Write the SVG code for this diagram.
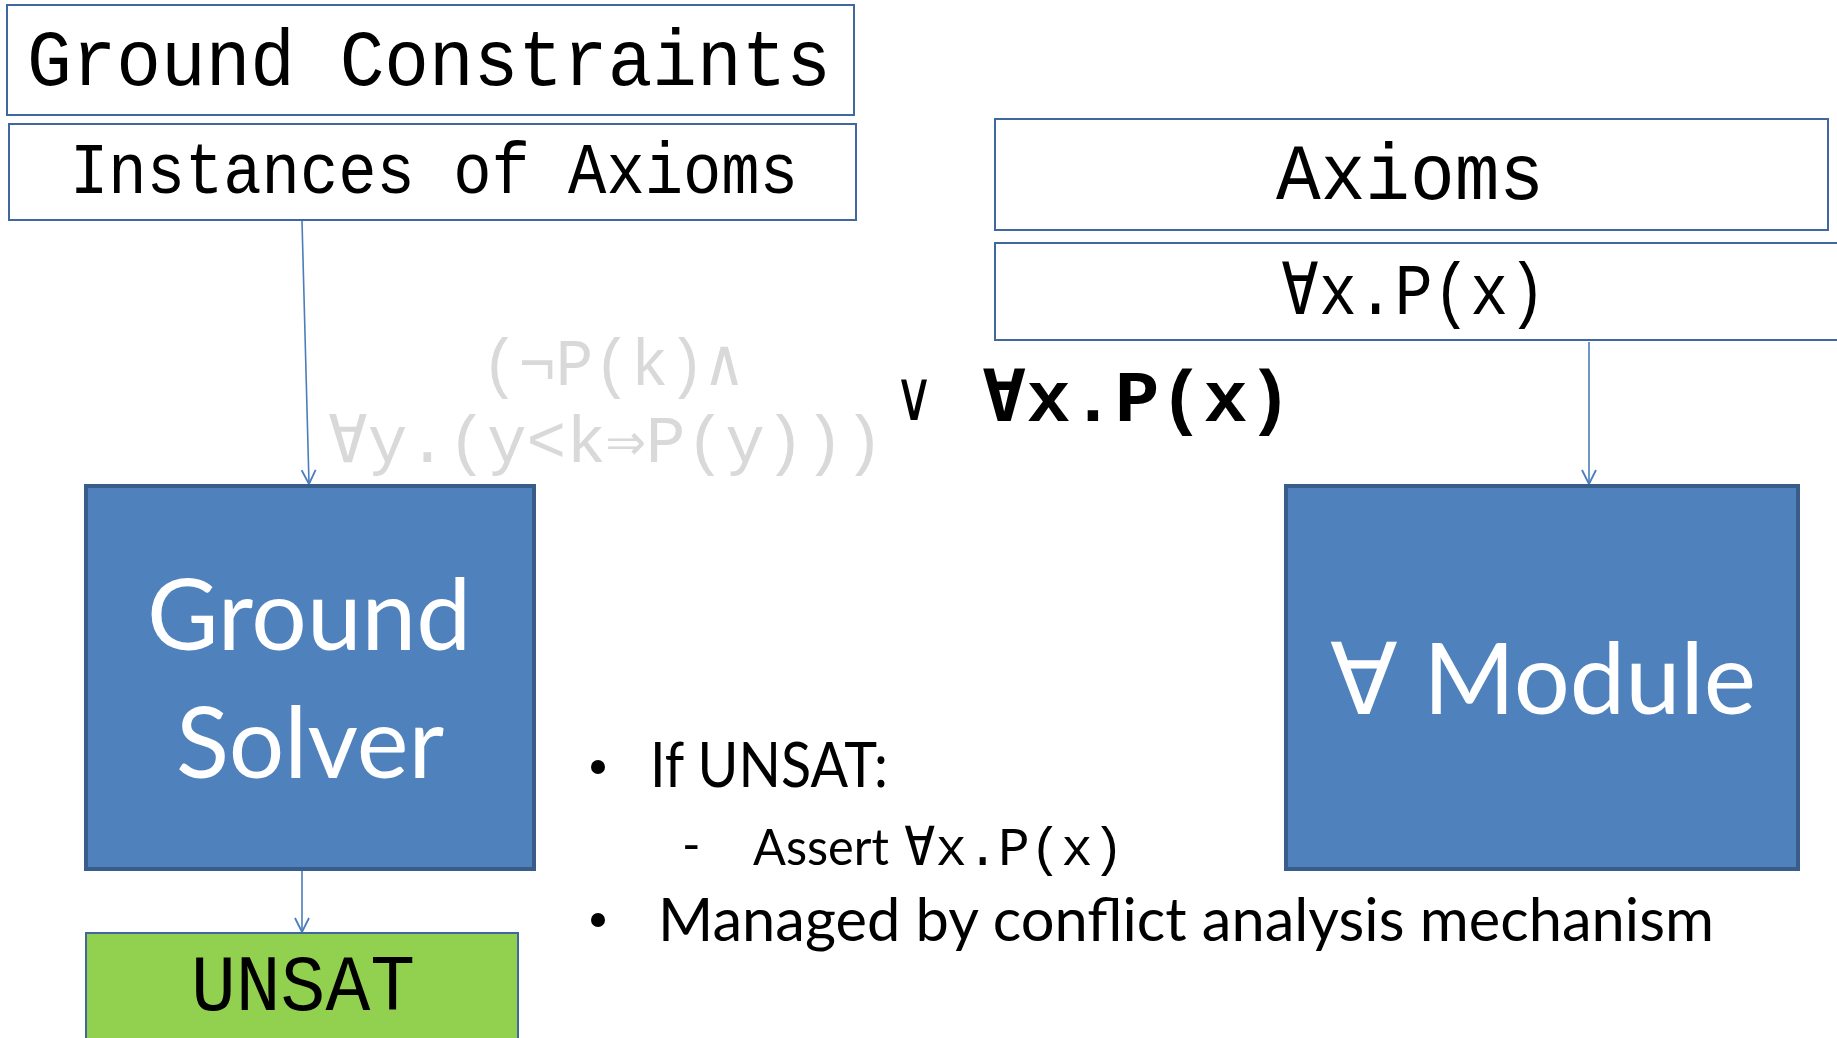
<svg xmlns="http://www.w3.org/2000/svg" width="1837" height="1038" viewBox="0 0 1837 1038">
<defs>
<style>
.obox{fill:#ffffff;stroke:#41689E;stroke-width:2}
.solid{fill:#4F81BD;stroke:#385D8A;stroke-width:4}
.mono{font-family:"Liberation Mono","DejaVu Sans Mono",monospace;fill:#000}
.sans{font-family:Lato,"Open Sans",sans-serif}
.white{fill:#fff}
.gray{fill:#D9D9D9}
.conn{stroke:#4A7EBB;stroke-width:1.6;fill:none}
</style>
<marker id="arr" viewBox="0 0 16 16" refX="15" refY="8" markerWidth="16" markerHeight="16" markerUnits="userSpaceOnUse" orient="auto">
<path d="M1,1 L15,8 L1,15" fill="none" stroke="#4A7EBB" stroke-width="1.8"/>
</marker>
</defs>
<rect width="1837" height="1038" fill="#fff"/>

<g id="connectors">
<line class="conn" x1="302" y1="221" x2="309" y2="484" marker-end="url(#arr)"/>
<line class="conn" x1="1589" y1="342" x2="1589" y2="484" marker-end="url(#arr)"/>
<line class="conn" x1="302" y1="871" x2="302" y2="932" marker-end="url(#arr)"/>
</g>

<g id="ground-constraints">
<rect class="obox" x="7" y="5" width="847" height="110"/>
<text class="mono" x="27" y="85" font-size="80" textLength="804" lengthAdjust="spacingAndGlyphs">Ground Constraints</text>
</g>

<g id="instances-of-axioms">
<rect class="obox" x="9" y="124" width="847" height="96"/>
<text class="mono" x="70" y="193" font-size="72" textLength="728" lengthAdjust="spacingAndGlyphs">Instances of Axioms</text>
</g>

<g id="axioms">
<rect class="obox" x="995" y="119" width="833" height="111"/>
<text class="mono" x="1276" y="199" font-size="80" textLength="268" lengthAdjust="spacingAndGlyphs">Axioms</text>
</g>

<g id="axiom-formula">
<rect class="obox" x="995" y="243" width="860" height="97"/>
<text class="mono" x="1281" y="314" font-size="72" textLength="265" lengthAdjust="spacingAndGlyphs">∀x.P(x)</text>
</g>

<g id="instance-formula">
<text class="mono gray" x="481" y="385" font-size="66" textLength="262" lengthAdjust="spacingAndGlyphs" style="fill:#D9D9D9">(¬P(k)∧</text>
<text class="mono gray" x="328" y="462" font-size="66" textLength="556" lengthAdjust="spacingAndGlyphs" style="fill:#D9D9D9">∀y.(y&lt;k⇒P(y)))</text>
<text x="894" y="420" font-size="70" font-family="'DejaVu Sans',sans-serif" textLength="40" lengthAdjust="spacingAndGlyphs">∨</text>
<text class="mono" x="982" y="421" font-size="72" font-weight="bold" textLength="310" lengthAdjust="spacingAndGlyphs">∀x.P(x)</text>
</g>

<g id="ground-solver">
<rect class="solid" x="86" y="486" width="448" height="383"/>
<text class="sans white" x="309" y="650" font-size="98" text-anchor="middle">Ground</text>
<text class="sans white" x="310" y="778" font-size="98" text-anchor="middle">Solver</text>
</g>

<g id="forall-module">
<rect class="solid" x="1286" y="486" width="512" height="383"/>
<text class="sans white" x="1543" y="714" font-size="99" text-anchor="middle">∀ Module</text>
</g>

<g id="unsat">
<rect x="86" y="933" width="432" height="120" fill="#92D050" stroke="#41689E" stroke-width="2"/>
<text class="mono" x="191" y="1010" font-size="80" textLength="224" lengthAdjust="spacingAndGlyphs">UNSAT</text>
</g>

<g id="notes">
<circle cx="598" cy="767" r="7" fill="#000"/>
<text class="sans" x="650" y="787" font-size="62" textLength="238" lengthAdjust="spacingAndGlyphs">If UNSAT:</text>
<text class="sans" x="682" y="862" font-size="50">-</text>
<text class="sans" x="753" y="865" font-size="50" textLength="136" lengthAdjust="spacingAndGlyphs">Assert</text>
<text class="mono" x="904" y="865" font-size="54" textLength="220" lengthAdjust="spacingAndGlyphs">∀x.P(x)</text>
<circle cx="598" cy="920" r="7" fill="#000"/>
<text class="sans" x="658" y="941" font-size="60" textLength="1056" lengthAdjust="spacingAndGlyphs">Managed by conflict analysis mechanism</text>
</g>
</svg>
